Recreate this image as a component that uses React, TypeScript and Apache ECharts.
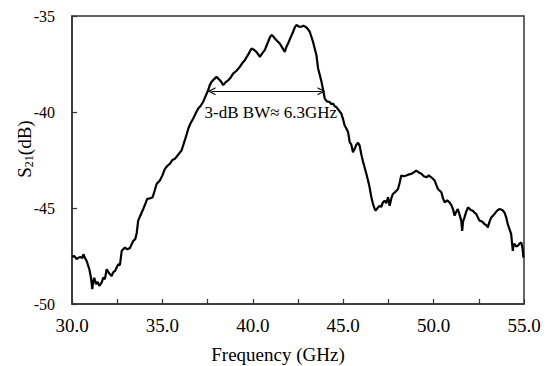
import React, { useEffect, useRef } from 'react';
import * as echarts from 'echarts';

// Measured S21 trace (frequency in GHz, level in dB)
const freqGHz = [
  30.00, 30.12, 30.26, 30.37, 30.48, 30.56, 30.63, 30.72, 30.81, 30.96,
  31.05, 31.12, 31.18, 31.23, 31.33, 31.42, 31.51, 31.64, 31.73, 31.82,
  31.92, 32.05, 32.19, 32.28, 32.38, 32.56, 32.65, 32.75, 32.93, 33.05,
  33.20, 33.39, 33.50, 33.58, 33.66, 33.80, 33.94, 34.05, 34.16, 34.30,
  34.46, 34.57, 34.68, 34.86, 35.00, 35.14, 35.28, 35.41, 35.55, 35.69,
  35.85, 36.06, 36.15, 36.30, 36.43, 36.55, 36.70, 36.85, 36.98, 37.10,
  37.25, 37.40, 37.53, 37.62, 37.72, 37.85, 37.99, 38.08, 38.18, 38.27,
  38.36, 38.50, 38.64, 38.78, 38.91, 39.10, 39.28, 39.42, 39.56, 39.75,
  39.93, 40.05, 40.20, 40.30, 40.39, 40.52, 40.66, 40.85, 40.95, 41.03,
  41.12, 41.22, 41.35, 41.49, 41.63, 41.77, 41.86, 41.95, 42.10, 42.23,
  42.32, 42.41, 42.55, 42.69, 42.80, 42.97, 43.06, 43.15, 43.33, 43.52,
  43.61, 43.70, 43.80, 43.90, 43.98, 44.10, 44.25, 44.35, 44.44, 44.53,
  44.62, 44.75, 44.90, 45.00, 45.08, 45.17, 45.27, 45.36, 45.45, 45.54,
  45.64, 45.73, 45.82, 45.91, 46.00, 46.10, 46.19, 46.28, 46.37, 46.46,
  46.55, 46.65, 46.72, 46.80, 46.90, 47.02, 47.10, 47.20, 47.29, 47.38,
  47.48, 47.57, 47.66, 47.75, 47.90, 48.03, 48.12, 48.21, 48.35, 48.49,
  48.63, 48.77, 48.90, 49.04, 49.18, 49.32, 49.46, 49.60, 49.73, 49.87,
  50.06, 50.15, 50.24, 50.43, 50.52, 50.61, 50.75, 50.88, 50.98, 51.07,
  51.16, 51.25, 51.34, 51.45, 51.53, 51.58, 51.63, 51.71, 51.80, 51.90,
  52.05, 52.17, 52.27, 52.36, 52.45, 52.54, 52.68, 52.82, 52.92, 53.00,
  53.10, 53.19, 53.28, 53.37, 53.50, 53.65, 53.80, 53.92, 54.02, 54.10,
  54.20, 54.29, 54.38, 54.43, 54.48, 54.57, 54.66, 54.75, 54.85, 54.92,
  54.97,
];

const s21dB = [
  -47.55, -47.50, -47.66, -47.58, -47.55, -47.62, -47.41, -47.60, -47.76, -48.19,
  -48.63, -49.23, -48.80, -48.63, -48.97, -48.85, -49.06, -48.89, -48.63, -48.70,
  -48.19, -48.40, -48.54, -48.35, -48.28, -47.93, -47.98, -47.23, -47.06, -47.15,
  -47.09, -46.71, -46.62, -46.30, -45.66, -45.35, -45.05, -44.80, -44.53, -44.50,
  -44.44, -44.10, -43.75, -43.57, -43.30, -42.96, -42.80, -42.70, -42.50, -42.44,
  -42.25, -42.00, -41.74, -41.30, -40.87, -40.60, -40.35, -40.05, -39.82, -39.70,
  -39.48, -39.15, -38.87, -38.60, -38.43, -38.30, -38.17, -38.25, -38.35, -38.45,
  -38.60, -38.45, -38.35, -38.20, -38.00, -37.85, -37.65, -37.45, -37.30, -37.00,
  -36.69, -36.75, -36.87, -37.00, -37.13, -36.95, -36.78, -36.34, -36.10, -35.99,
  -36.05, -36.17, -36.30, -36.43, -36.65, -36.87, -36.60, -36.43, -36.10, -35.82,
  -35.60, -35.47, -35.55, -35.56, -35.50, -35.60, -35.70, -35.82, -36.34, -37.04,
  -37.73, -38.05, -38.43, -38.90, -39.30, -39.45, -39.48, -39.60, -39.56, -39.70,
  -39.74, -39.90, -40.09, -40.40, -40.70, -40.85, -41.05, -41.57, -41.70, -42.10,
  -41.90, -41.70, -41.60, -41.75, -42.20, -42.60, -42.90, -43.22, -43.55, -43.92,
  -44.40, -44.79, -45.00, -45.14, -45.00, -44.88, -44.95, -44.70, -44.62, -44.75,
  -44.44, -44.88, -44.50, -44.27, -44.15, -44.01, -43.70, -43.31, -43.35, -43.31,
  -43.25, -43.22, -43.15, -43.05, -43.15, -43.22, -43.35, -43.40, -43.30, -43.40,
  -43.57, -43.80, -44.01, -44.18, -44.50, -44.71, -44.60, -44.71, -44.85, -45.05,
  -45.40, -45.20, -45.05, -45.40, -45.66, -46.19, -45.70, -45.49, -45.20, -44.97,
  -45.10, -45.14, -45.25, -45.31, -45.50, -45.66, -45.70, -45.84, -45.90, -46.01,
  -45.70, -45.49, -45.40, -45.31, -45.15, -45.05, -45.10, -45.23, -45.50, -45.84,
  -46.10, -46.36, -47.23, -46.90, -46.88, -47.00, -46.97, -46.85, -46.80, -47.10,
  -47.58,
];

// Axis ranges
const xMin = 30;
const xMax = 55;
const xTickStep = 2.5;
const xLabelStep = 5;
const yMin = -50;
const yMax = -35;
const yTickStep = 5;

// 3-dB bandwidth annotation
const bwStart = 37.72;
const bwEnd = 43.8;
const bwLevel = -38.92;
const bwLabelAt = [41.0, -40.0];
const bwLabel = '3-dB BW\u2248 6.3GHz';

const xTitle = 'Frequency (GHz)';
const yTitleMain = 'S';
const yTitleSub = '21';
const yTitleUnit = '(dB)';

const FONT = '"Liberation Serif", "Times New Roman", serif';
const chevron = 'path://M5,0 L10,10 L8.4,10 L5,3.2 L1.6,10 L0,10 Z';

export default function App() {
  const ref = useRef<HTMLDivElement>(null);

  useEffect(() => {
    if (!ref.current) return;
    const chart = echarts.init(ref.current, undefined, { renderer: 'svg' });
    const data = freqGHz.map((f, i) => [f, s21dB[i]]);

    chart.setOption({
      animation: false,
      backgroundColor: '#fff',
      grid: {
        left: 72,
        right: 25,
        top: 16,
        bottom: 62,
        show: true,
        borderColor: '#333',
        borderWidth: 1.5,
        backgroundColor: 'transparent',
      },
      xAxis: {
        type: 'value',
        min: xMin,
        max: xMax,
        interval: xTickStep,
        axisLine: { show: true, lineStyle: { color: '#333', width: 1.5 } },
        axisTick: { show: true, inside: true, length: 5, lineStyle: { color: '#333', width: 1.2 } },
        splitLine: { show: false },
        axisLabel: {
          margin: 12,
          color: '#000',
          fontFamily: FONT,
          fontSize: 19,
          formatter: (v: number) =>
            Math.abs(v / xLabelStep - Math.round(v / xLabelStep)) < 1e-6 ? v.toFixed(1) : '',
        },
      },
      yAxis: {
        type: 'value',
        min: yMin,
        max: yMax,
        interval: yTickStep,
        axisLine: { show: true, lineStyle: { color: '#333', width: 1.5 } },
        axisTick: { show: true, inside: true, length: 5, lineStyle: { color: '#333', width: 1.2 } },
        splitLine: { show: false },
        axisLabel: {
          margin: 17,
          color: '#000',
          fontFamily: FONT,
          fontSize: 16,
        },
      },
      graphic: [
        {
          type: 'text',
          x: 278,
          y: 354,
          style: {
            text: xTitle,
            fill: '#000',
            fontFamily: FONT,
            fontSize: 19,
            align: 'center',
            verticalAlign: 'middle',
          },
        },
        {
          type: 'text',
          x: 24,
          y: 149,
          rotation: Math.PI / 2,
          style: {
            text: `{s|${yTitleMain}}{sub|${yTitleSub}}{s|${yTitleUnit}}`,
            fill: '#000',
            align: 'center',
            verticalAlign: 'middle',
            rich: {
              s: { fontFamily: FONT, fontSize: 19, lineHeight: 22, fill: '#000' },
              sub: { fontFamily: FONT, fontSize: 12, lineHeight: 12, verticalAlign: 'bottom', fill: '#000' },
            },
          },
        },
      ],
      series: [
        {
          type: 'line',
          data,
          showSymbol: false,
          symbol: 'none',
          lineStyle: { color: '#000', width: 2.2 },
          markLine: {
            silent: true,
            symbol: [chevron, chevron],
            symbolSize: [8, 8],
            lineStyle: { color: '#000', width: 1.2, type: 'solid' },
            label: { show: false },
            data: [[{ coord: [bwStart, bwLevel] }, { coord: [bwEnd, bwLevel] }]],
          },
          markPoint: {
            silent: true,
            symbol: 'rect',
            symbolSize: 1,
            itemStyle: { color: 'rgba(0,0,0,0)' },
            label: {
              show: true,
              position: 'inside',
              formatter: bwLabel,
              color: '#000',
              fontFamily: FONT,
              fontSize: 17,
            },
            data: [{ coord: bwLabelAt }],
          },
        },
      ],
    });

    return () => chart.dispose();
  }, []);

  return (
    <div
      ref={ref}
      style={{ position: 'fixed', left: 0, top: 0, width: 549, height: 366, background: '#fff' }}
    />
  );
}
